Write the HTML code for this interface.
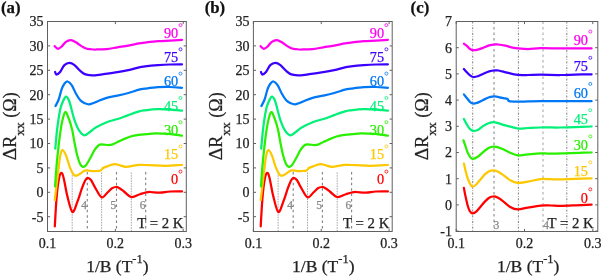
<!DOCTYPE html>
<html><head><meta charset="utf-8"><title>Figure</title>
<style>
html,body{margin:0;padding:0;background:#fff;}
body{width:602px;height:277px;overflow:hidden;}
svg{display:block;font-family:"Liberation Serif", serif;will-change:transform;}
text{stroke:currentColor;stroke-width:0.25px;}
</style></head>
<body>
<svg width="602" height="277" viewBox="0 0 602 277">
<rect x="0" y="0" width="602" height="277" fill="#fff"/>
<line x1="72.20" y1="172.50" x2="72.20" y2="231" stroke="#a8a8a8" stroke-width="1" stroke-dasharray="1.6 1"/>
<line x1="101.60" y1="172.50" x2="101.60" y2="231" stroke="#a8a8a8" stroke-width="1" stroke-dasharray="1.6 1"/>
<line x1="131.30" y1="172.50" x2="131.30" y2="231" stroke="#a8a8a8" stroke-width="1" stroke-dasharray="1.6 1"/>
<line x1="87.30" y1="172.00" x2="87.30" y2="231" stroke="#808080" stroke-width="1.1" stroke-dasharray="2.5 2.9"/>
<line x1="116.50" y1="172.00" x2="116.50" y2="231" stroke="#808080" stroke-width="1.1" stroke-dasharray="2.5 2.9"/>
<line x1="145.70" y1="172.00" x2="145.70" y2="231" stroke="#808080" stroke-width="1.1" stroke-dasharray="2.5 2.9"/>
<text x="84.10" y="208.80" font-size="11.50" text-anchor="middle" fill="#888" color="#888" font-weight="normal" >4</text>
<text x="113.30" y="208.80" font-size="11.50" text-anchor="middle" fill="#888" color="#888" font-weight="normal" >5</text>
<text x="142.50" y="208.80" font-size="11.50" text-anchor="middle" fill="#888" color="#888" font-weight="normal" >6</text>
<text x="137.20" y="227.70" font-size="14.80" text-anchor="start" fill="#222" color="#222" font-weight="normal" >T = 2 K</text>
<path d="M54.80,226.40 C55.08,221.80 55.85,206.53 56.50,198.80 C57.15,191.07 57.90,184.33 58.70,180.00 C59.50,175.67 60.47,173.10 61.30,172.80 C62.13,172.50 62.70,174.35 63.70,178.20 C64.70,182.05 65.85,190.27 67.30,195.90 C68.75,201.53 70.72,211.03 72.40,212.00 C74.08,212.97 75.83,205.58 77.40,201.70 C78.97,197.82 80.58,192.08 81.80,188.70 C83.02,185.32 83.75,183.22 84.70,181.40 C85.65,179.58 86.45,178.03 87.50,177.80 C88.55,177.57 89.75,178.42 91.00,180.00 C92.25,181.58 93.23,184.42 95.00,187.30 C96.77,190.18 99.52,196.43 101.60,197.30 C103.68,198.17 105.77,194.00 107.50,192.50 C109.23,191.00 110.62,189.22 112.00,188.30 C113.38,187.38 114.55,187.02 115.80,187.00 C117.05,186.98 118.13,187.45 119.50,188.20 C120.87,188.95 122.03,190.03 124.00,191.50 C125.97,192.97 128.63,196.55 131.30,197.00 C133.97,197.45 137.60,194.95 140.00,194.20 C142.40,193.45 144.00,192.87 145.70,192.50 C147.40,192.13 147.82,191.98 150.20,192.00 C152.58,192.02 156.70,192.68 160.00,192.60 C163.30,192.52 166.33,191.70 170.00,191.50 C173.67,191.30 180.00,191.42 182.00,191.40" fill="none" stroke="#ff0000" stroke-width="2.25" stroke-linejoin="round" stroke-linecap="round"/>
<path d="M54.80,200.20 C55.32,195.82 57.02,181.17 57.90,173.90 C58.78,166.63 59.37,160.57 60.10,156.60 C60.83,152.63 61.33,150.35 62.30,150.10 C63.27,149.85 64.58,152.10 65.90,155.10 C67.22,158.10 68.77,164.73 70.20,168.10 C71.63,171.47 73.05,174.25 74.50,175.30 C75.95,176.35 77.20,175.18 78.90,174.40 C80.60,173.62 83.10,171.23 84.70,170.60 C86.30,169.97 87.12,170.52 88.50,170.60 C89.88,170.68 91.58,171.03 93.00,171.10 C94.42,171.17 95.73,171.10 97.00,171.00 C98.27,170.90 99.53,171.03 100.60,170.50 C101.67,169.97 102.33,168.48 103.40,167.80 C104.47,167.12 105.18,167.02 107.00,166.40 C108.82,165.78 112.13,164.28 114.30,164.10 C116.47,163.92 118.02,164.85 120.00,165.30 C121.98,165.75 123.02,166.87 126.20,166.80 C129.38,166.73 135.13,165.17 139.10,164.90 C143.07,164.63 145.68,165.05 150.00,165.20 C154.32,165.35 159.67,165.83 165.00,165.80 C170.33,165.77 179.17,165.13 182.00,165.00" fill="none" stroke="#fcc800" stroke-width="2.25" stroke-linejoin="round" stroke-linecap="round"/>
<path d="M55.10,186.50 C55.33,183.20 55.90,173.62 56.50,166.70 C57.10,159.78 57.85,152.05 58.70,145.00 C59.55,137.95 60.52,129.87 61.60,124.40 C62.68,118.93 64.00,113.15 65.20,112.20 C66.40,111.25 67.63,115.73 68.80,118.70 C69.97,121.67 71.28,126.18 72.20,130.00 C73.12,133.82 73.47,137.38 74.30,141.60 C75.13,145.82 76.23,151.58 77.20,155.30 C78.17,159.02 79.13,161.98 80.10,163.90 C81.07,165.82 82.03,166.55 83.00,166.80 C83.97,167.05 84.70,166.83 85.90,165.40 C87.10,163.97 88.77,160.73 90.20,158.20 C91.63,155.67 93.05,152.40 94.50,150.20 C95.95,148.00 97.45,145.95 98.90,145.00 C100.35,144.05 101.68,144.50 103.20,144.50 C104.72,144.50 106.53,144.98 108.00,145.00 C109.47,145.02 110.42,145.10 112.00,144.60 C113.58,144.10 115.75,142.82 117.50,142.00 C119.25,141.18 120.32,140.62 122.50,139.70 C124.68,138.78 127.90,137.30 130.60,136.50 C133.30,135.70 136.00,135.30 138.70,134.90 C141.40,134.50 144.08,134.35 146.80,134.10 C149.52,133.85 152.30,133.48 155.00,133.40 C157.70,133.32 160.33,133.48 163.00,133.60 C165.67,133.72 167.83,133.77 171.00,134.10 C174.17,134.43 180.17,135.35 182.00,135.60" fill="none" stroke="#28f000" stroke-width="2.25" stroke-linejoin="round" stroke-linecap="round"/>
<path d="M55.30,148.60 C55.62,145.30 56.40,135.23 57.20,128.80 C58.00,122.37 59.22,114.38 60.10,110.00 C60.98,105.62 61.53,104.72 62.50,102.50 C63.47,100.28 64.82,97.03 65.90,96.70 C66.98,96.37 68.03,98.28 69.00,100.50 C69.97,102.72 70.78,106.73 71.70,110.00 C72.62,113.27 73.30,116.73 74.50,120.10 C75.70,123.47 77.28,127.67 78.90,130.20 C80.52,132.73 82.32,135.05 84.20,135.30 C86.08,135.55 88.27,132.98 90.20,131.70 C92.13,130.42 93.05,129.18 95.80,127.60 C98.55,126.02 103.08,123.63 106.70,122.20 C110.32,120.77 113.90,120.18 117.50,119.00 C121.10,117.82 124.70,116.37 128.30,115.10 C131.90,113.83 136.32,112.20 139.10,111.40 C141.88,110.60 141.85,110.67 145.00,110.30 C148.15,109.93 153.83,109.32 158.00,109.20 C162.17,109.08 166.00,109.35 170.00,109.60 C174.00,109.85 180.00,110.52 182.00,110.70" fill="none" stroke="#00f078" stroke-width="2.25" stroke-linejoin="round" stroke-linecap="round"/>
<path d="M55.50,106.00 C56.03,104.92 57.68,102.27 58.70,99.50 C59.72,96.73 60.65,92.03 61.60,89.40 C62.55,86.77 63.40,85.02 64.40,83.70 C65.40,82.38 66.38,81.27 67.60,81.50 C68.82,81.73 70.30,83.05 71.70,85.10 C73.10,87.15 74.57,91.27 76.00,93.80 C77.43,96.33 78.85,98.73 80.30,100.30 C81.75,101.87 83.20,102.53 84.70,103.20 C86.20,103.87 87.45,104.48 89.30,104.30 C91.15,104.12 92.90,103.18 95.80,102.10 C98.70,101.02 103.08,98.88 106.70,97.80 C110.32,96.72 113.90,96.40 117.50,95.60 C121.10,94.80 124.70,93.98 128.30,93.00 C131.90,92.02 136.32,90.42 139.10,89.70 C141.88,88.98 141.85,89.12 145.00,88.70 C148.15,88.28 153.83,87.48 158.00,87.20 C162.17,86.92 166.00,86.90 170.00,87.00 C174.00,87.10 180.00,87.67 182.00,87.80" fill="none" stroke="#0078f5" stroke-width="2.25" stroke-linejoin="round" stroke-linecap="round"/>
<path d="M55.10,72.00 C55.33,72.42 55.67,74.50 56.50,74.50 C57.33,74.50 58.78,73.57 60.10,72.00 C61.42,70.43 62.83,66.62 64.40,65.10 C65.97,63.58 67.82,62.90 69.50,62.90 C71.18,62.90 72.70,63.77 74.50,65.10 C76.30,66.43 78.60,69.40 80.30,70.90 C82.00,72.40 83.08,73.38 84.70,74.10 C86.32,74.82 88.28,74.98 90.00,75.20 C91.72,75.42 92.95,75.53 95.00,75.40 C97.05,75.27 98.55,74.93 102.30,74.40 C106.05,73.87 113.17,72.92 117.50,72.20 C121.83,71.48 124.70,70.92 128.30,70.10 C131.90,69.28 136.32,67.92 139.10,67.30 C141.88,66.68 141.85,66.75 145.00,66.40 C148.15,66.05 153.83,65.52 158.00,65.20 C162.17,64.88 166.00,64.65 170.00,64.50 C174.00,64.35 180.00,64.33 182.00,64.30" fill="none" stroke="#3c00ff" stroke-width="2.25" stroke-linejoin="round" stroke-linecap="round"/>
<path d="M54.60,46.20 C55.15,46.63 56.73,48.73 57.90,48.80 C59.07,48.87 60.27,47.77 61.60,46.60 C62.93,45.43 64.35,42.88 65.90,41.80 C67.45,40.72 69.22,40.02 70.90,40.10 C72.58,40.18 74.32,41.33 76.00,42.30 C77.68,43.27 79.32,44.87 81.00,45.90 C82.68,46.93 84.52,47.95 86.10,48.50 C87.68,49.05 88.85,49.03 90.50,49.20 C92.15,49.37 93.30,49.52 96.00,49.50 C98.70,49.48 103.12,49.47 106.70,49.10 C110.28,48.73 113.90,47.88 117.50,47.30 C121.10,46.72 124.70,46.25 128.30,45.60 C131.90,44.95 136.32,43.90 139.10,43.40 C141.88,42.90 141.85,42.97 145.00,42.60 C148.15,42.23 153.83,41.53 158.00,41.20 C162.17,40.87 166.00,40.82 170.00,40.60 C174.00,40.38 180.00,40.02 182.00,39.90" fill="none" stroke="#ff00f0" stroke-width="2.25" stroke-linejoin="round" stroke-linecap="round"/>
<text x="178.20" y="37.70" font-size="14.30" text-anchor="end" fill="#ff00f0" color="#ff00f0" font-weight="normal" >90</text>
<circle cx="180.50" cy="25.10" r="1.5" fill="none" stroke="#ff00f0" stroke-width="0.8"/>
<text x="178.20" y="61.90" font-size="14.30" text-anchor="end" fill="#3c00ff" color="#3c00ff" font-weight="normal" >75</text>
<circle cx="180.50" cy="49.30" r="1.5" fill="none" stroke="#3c00ff" stroke-width="0.8"/>
<text x="178.20" y="86.20" font-size="14.30" text-anchor="end" fill="#0078f5" color="#0078f5" font-weight="normal" >60</text>
<circle cx="180.50" cy="73.60" r="1.5" fill="none" stroke="#0078f5" stroke-width="0.8"/>
<text x="178.20" y="110.50" font-size="14.30" text-anchor="end" fill="#00f078" color="#00f078" font-weight="normal" >45</text>
<circle cx="180.50" cy="97.90" r="1.5" fill="none" stroke="#00f078" stroke-width="0.8"/>
<text x="178.20" y="134.80" font-size="14.30" text-anchor="end" fill="#28f000" color="#28f000" font-weight="normal" >30</text>
<circle cx="180.50" cy="122.20" r="1.5" fill="none" stroke="#28f000" stroke-width="0.8"/>
<text x="178.20" y="159.00" font-size="14.30" text-anchor="end" fill="#fcc800" color="#fcc800" font-weight="normal" >15</text>
<circle cx="180.50" cy="146.40" r="1.5" fill="none" stroke="#fcc800" stroke-width="0.8"/>
<text x="178.20" y="184.20" font-size="14.30" text-anchor="end" fill="#ff0000" color="#ff0000" font-weight="normal" >0</text>
<circle cx="180.50" cy="171.60" r="1.5" fill="none" stroke="#ff0000" stroke-width="0.8"/>
<rect x="47.50" y="21.50" width="138.80" height="210.00" fill="none" stroke="#606060" stroke-width="1"/>
<line x1="47.50" y1="216.70" x2="50.10" y2="216.70" stroke="#606060" stroke-width="1"/>
<line x1="186.30" y1="216.70" x2="183.70" y2="216.70" stroke="#606060" stroke-width="1"/>
<text x="43.50" y="221.50" font-size="14.00" text-anchor="end" fill="#222" color="#222" font-weight="normal" >-5</text>
<line x1="47.50" y1="192.30" x2="50.10" y2="192.30" stroke="#606060" stroke-width="1"/>
<line x1="186.30" y1="192.30" x2="183.70" y2="192.30" stroke="#606060" stroke-width="1"/>
<text x="43.50" y="197.10" font-size="14.00" text-anchor="end" fill="#222" color="#222" font-weight="normal" >0</text>
<line x1="47.50" y1="167.90" x2="50.10" y2="167.90" stroke="#606060" stroke-width="1"/>
<line x1="186.30" y1="167.90" x2="183.70" y2="167.90" stroke="#606060" stroke-width="1"/>
<text x="43.50" y="172.70" font-size="14.00" text-anchor="end" fill="#222" color="#222" font-weight="normal" >5</text>
<line x1="47.50" y1="143.50" x2="50.10" y2="143.50" stroke="#606060" stroke-width="1"/>
<line x1="186.30" y1="143.50" x2="183.70" y2="143.50" stroke="#606060" stroke-width="1"/>
<text x="43.50" y="148.30" font-size="14.00" text-anchor="end" fill="#222" color="#222" font-weight="normal" >10</text>
<line x1="47.50" y1="119.10" x2="50.10" y2="119.10" stroke="#606060" stroke-width="1"/>
<line x1="186.30" y1="119.10" x2="183.70" y2="119.10" stroke="#606060" stroke-width="1"/>
<text x="43.50" y="123.90" font-size="14.00" text-anchor="end" fill="#222" color="#222" font-weight="normal" >15</text>
<line x1="47.50" y1="94.70" x2="50.10" y2="94.70" stroke="#606060" stroke-width="1"/>
<line x1="186.30" y1="94.70" x2="183.70" y2="94.70" stroke="#606060" stroke-width="1"/>
<text x="43.50" y="99.50" font-size="14.00" text-anchor="end" fill="#222" color="#222" font-weight="normal" >20</text>
<line x1="47.50" y1="70.30" x2="50.10" y2="70.30" stroke="#606060" stroke-width="1"/>
<line x1="186.30" y1="70.30" x2="183.70" y2="70.30" stroke="#606060" stroke-width="1"/>
<text x="43.50" y="75.10" font-size="14.00" text-anchor="end" fill="#222" color="#222" font-weight="normal" >25</text>
<line x1="47.50" y1="45.90" x2="50.10" y2="45.90" stroke="#606060" stroke-width="1"/>
<line x1="186.30" y1="45.90" x2="183.70" y2="45.90" stroke="#606060" stroke-width="1"/>
<text x="43.50" y="50.70" font-size="14.00" text-anchor="end" fill="#222" color="#222" font-weight="normal" >30</text>
<line x1="47.50" y1="21.50" x2="50.10" y2="21.50" stroke="#606060" stroke-width="1"/>
<line x1="186.30" y1="21.50" x2="183.70" y2="21.50" stroke="#606060" stroke-width="1"/>
<text x="43.50" y="26.30" font-size="14.00" text-anchor="end" fill="#222" color="#222" font-weight="normal" >35</text>
<line x1="47.50" y1="231.50" x2="47.50" y2="228.90" stroke="#606060" stroke-width="1"/>
<line x1="47.50" y1="21.50" x2="47.50" y2="24.10" stroke="#606060" stroke-width="1"/>
<text x="47.50" y="248.20" font-size="14.00" text-anchor="middle" fill="#222" color="#222" font-weight="normal" >0.1</text>
<line x1="115.35" y1="231.50" x2="115.35" y2="228.90" stroke="#606060" stroke-width="1"/>
<line x1="115.35" y1="21.50" x2="115.35" y2="24.10" stroke="#606060" stroke-width="1"/>
<text x="115.35" y="248.20" font-size="14.00" text-anchor="middle" fill="#222" color="#222" font-weight="normal" >0.2</text>
<line x1="183.20" y1="231.50" x2="183.20" y2="228.90" stroke="#606060" stroke-width="1"/>
<line x1="183.20" y1="21.50" x2="183.20" y2="24.10" stroke="#606060" stroke-width="1"/>
<text x="183.20" y="248.20" font-size="14.00" text-anchor="middle" fill="#222" color="#222" font-weight="normal" >0.3</text>
<text x="117.40" y="272.4" font-size="17.5" text-anchor="middle" fill="#222" color="#222">1/B (T<tspan font-size="12.5" dy="-9">-1</tspan><tspan dy="9">)</tspan></text>
<text transform="translate(16.30,159.60) rotate(-90)" font-size="18" fill="#222" color="#222" x="-0.7" y="0"><tspan font-size="19.5">&#916;</tspan>R<tspan font-size="13.5" dy="8">xx</tspan><tspan dy="-8"> (&#937;)</tspan></text>
<text x="1.00" y="13.30" font-size="16.80" text-anchor="start" fill="#111" color="#111" font-weight="bold" >(a)</text>
<line x1="278.10" y1="172.50" x2="278.10" y2="231" stroke="#a8a8a8" stroke-width="1" stroke-dasharray="1.6 1"/>
<line x1="307.50" y1="172.50" x2="307.50" y2="231" stroke="#a8a8a8" stroke-width="1" stroke-dasharray="1.6 1"/>
<line x1="337.20" y1="172.50" x2="337.20" y2="231" stroke="#a8a8a8" stroke-width="1" stroke-dasharray="1.6 1"/>
<line x1="293.20" y1="172.00" x2="293.20" y2="231" stroke="#808080" stroke-width="1.1" stroke-dasharray="2.5 2.9"/>
<line x1="322.40" y1="172.00" x2="322.40" y2="231" stroke="#808080" stroke-width="1.1" stroke-dasharray="2.5 2.9"/>
<line x1="351.60" y1="172.00" x2="351.60" y2="231" stroke="#808080" stroke-width="1.1" stroke-dasharray="2.5 2.9"/>
<text x="290.00" y="208.80" font-size="11.50" text-anchor="middle" fill="#888" color="#888" font-weight="normal" >4</text>
<text x="319.20" y="208.80" font-size="11.50" text-anchor="middle" fill="#888" color="#888" font-weight="normal" >5</text>
<text x="348.40" y="208.80" font-size="11.50" text-anchor="middle" fill="#888" color="#888" font-weight="normal" >6</text>
<text x="343.10" y="227.70" font-size="14.80" text-anchor="start" fill="#222" color="#222" font-weight="normal" >T = 2 K</text>
<path d="M260.70,226.40 C260.98,221.80 261.75,206.53 262.40,198.80 C263.05,191.07 263.80,184.33 264.60,180.00 C265.40,175.67 266.37,173.10 267.20,172.80 C268.03,172.50 268.60,174.35 269.60,178.20 C270.60,182.05 271.75,190.27 273.20,195.90 C274.65,201.53 276.62,211.03 278.30,212.00 C279.98,212.97 281.73,205.58 283.30,201.70 C284.87,197.82 286.48,192.08 287.70,188.70 C288.92,185.32 289.65,183.22 290.60,181.40 C291.55,179.58 292.35,178.03 293.40,177.80 C294.45,177.57 295.65,178.42 296.90,180.00 C298.15,181.58 299.13,184.42 300.90,187.30 C302.67,190.18 305.42,196.43 307.50,197.30 C309.58,198.17 311.67,194.00 313.40,192.50 C315.13,191.00 316.52,189.22 317.90,188.30 C319.28,187.38 320.45,187.02 321.70,187.00 C322.95,186.98 324.03,187.45 325.40,188.20 C326.77,188.95 327.93,190.03 329.90,191.50 C331.87,192.97 334.53,196.55 337.20,197.00 C339.87,197.45 343.50,194.95 345.90,194.20 C348.30,193.45 349.90,192.87 351.60,192.50 C353.30,192.13 353.72,191.98 356.10,192.00 C358.48,192.02 362.60,192.68 365.90,192.60 C369.20,192.52 372.23,191.70 375.90,191.50 C379.57,191.30 385.90,191.42 387.90,191.40" fill="none" stroke="#ff0000" stroke-width="2.25" stroke-linejoin="round" stroke-linecap="round"/>
<path d="M260.70,200.20 C261.22,195.82 262.92,181.17 263.80,173.90 C264.68,166.63 265.27,160.57 266.00,156.60 C266.73,152.63 267.23,150.35 268.20,150.10 C269.17,149.85 270.48,152.10 271.80,155.10 C273.12,158.10 274.67,164.73 276.10,168.10 C277.53,171.47 278.95,174.25 280.40,175.30 C281.85,176.35 283.10,175.18 284.80,174.40 C286.50,173.62 289.00,171.23 290.60,170.60 C292.20,169.97 293.02,170.52 294.40,170.60 C295.78,170.68 297.48,171.03 298.90,171.10 C300.32,171.17 301.63,171.10 302.90,171.00 C304.17,170.90 305.43,171.03 306.50,170.50 C307.57,169.97 308.23,168.48 309.30,167.80 C310.37,167.12 311.08,167.02 312.90,166.40 C314.72,165.78 318.03,164.28 320.20,164.10 C322.37,163.92 323.92,164.85 325.90,165.30 C327.88,165.75 328.92,166.87 332.10,166.80 C335.28,166.73 341.03,165.17 345.00,164.90 C348.97,164.63 351.58,165.05 355.90,165.20 C360.22,165.35 365.57,165.83 370.90,165.80 C376.23,165.77 385.07,165.13 387.90,165.00" fill="none" stroke="#fcc800" stroke-width="2.25" stroke-linejoin="round" stroke-linecap="round"/>
<path d="M261.00,186.50 C261.23,183.20 261.80,173.62 262.40,166.70 C263.00,159.78 263.75,152.05 264.60,145.00 C265.45,137.95 266.42,129.87 267.50,124.40 C268.58,118.93 269.90,113.15 271.10,112.20 C272.30,111.25 273.53,115.73 274.70,118.70 C275.87,121.67 277.18,126.18 278.10,130.00 C279.02,133.82 279.37,137.38 280.20,141.60 C281.03,145.82 282.13,151.58 283.10,155.30 C284.07,159.02 285.03,161.98 286.00,163.90 C286.97,165.82 287.93,166.55 288.90,166.80 C289.87,167.05 290.60,166.83 291.80,165.40 C293.00,163.97 294.67,160.73 296.10,158.20 C297.53,155.67 298.95,152.40 300.40,150.20 C301.85,148.00 303.35,145.95 304.80,145.00 C306.25,144.05 307.58,144.50 309.10,144.50 C310.62,144.50 312.43,144.98 313.90,145.00 C315.37,145.02 316.32,145.10 317.90,144.60 C319.48,144.10 321.65,142.82 323.40,142.00 C325.15,141.18 326.22,140.62 328.40,139.70 C330.58,138.78 333.80,137.30 336.50,136.50 C339.20,135.70 341.90,135.30 344.60,134.90 C347.30,134.50 349.98,134.35 352.70,134.10 C355.42,133.85 358.20,133.48 360.90,133.40 C363.60,133.32 366.23,133.48 368.90,133.60 C371.57,133.72 373.73,133.77 376.90,134.10 C380.07,134.43 386.07,135.35 387.90,135.60" fill="none" stroke="#28f000" stroke-width="2.25" stroke-linejoin="round" stroke-linecap="round"/>
<path d="M261.20,148.60 C261.52,145.30 262.30,135.23 263.10,128.80 C263.90,122.37 265.12,114.38 266.00,110.00 C266.88,105.62 267.43,104.72 268.40,102.50 C269.37,100.28 270.72,97.03 271.80,96.70 C272.88,96.37 273.93,98.28 274.90,100.50 C275.87,102.72 276.68,106.73 277.60,110.00 C278.52,113.27 279.20,116.73 280.40,120.10 C281.60,123.47 283.18,127.67 284.80,130.20 C286.42,132.73 288.22,135.05 290.10,135.30 C291.98,135.55 294.17,132.98 296.10,131.70 C298.03,130.42 298.95,129.18 301.70,127.60 C304.45,126.02 308.98,123.63 312.60,122.20 C316.22,120.77 319.80,120.18 323.40,119.00 C327.00,117.82 330.60,116.37 334.20,115.10 C337.80,113.83 342.22,112.20 345.00,111.40 C347.78,110.60 347.75,110.67 350.90,110.30 C354.05,109.93 359.73,109.32 363.90,109.20 C368.07,109.08 371.90,109.35 375.90,109.60 C379.90,109.85 385.90,110.52 387.90,110.70" fill="none" stroke="#00f078" stroke-width="2.25" stroke-linejoin="round" stroke-linecap="round"/>
<path d="M261.40,106.00 C261.93,104.92 263.58,102.27 264.60,99.50 C265.62,96.73 266.55,92.03 267.50,89.40 C268.45,86.77 269.30,85.02 270.30,83.70 C271.30,82.38 272.28,81.27 273.50,81.50 C274.72,81.73 276.20,83.05 277.60,85.10 C279.00,87.15 280.47,91.27 281.90,93.80 C283.33,96.33 284.75,98.73 286.20,100.30 C287.65,101.87 289.10,102.53 290.60,103.20 C292.10,103.87 293.35,104.48 295.20,104.30 C297.05,104.12 298.80,103.18 301.70,102.10 C304.60,101.02 308.98,98.88 312.60,97.80 C316.22,96.72 319.80,96.40 323.40,95.60 C327.00,94.80 330.60,93.98 334.20,93.00 C337.80,92.02 342.22,90.42 345.00,89.70 C347.78,88.98 347.75,89.12 350.90,88.70 C354.05,88.28 359.73,87.48 363.90,87.20 C368.07,86.92 371.90,86.90 375.90,87.00 C379.90,87.10 385.90,87.67 387.90,87.80" fill="none" stroke="#0078f5" stroke-width="2.25" stroke-linejoin="round" stroke-linecap="round"/>
<path d="M261.00,72.00 C261.23,72.42 261.57,74.50 262.40,74.50 C263.23,74.50 264.68,73.57 266.00,72.00 C267.32,70.43 268.73,66.62 270.30,65.10 C271.87,63.58 273.72,62.90 275.40,62.90 C277.08,62.90 278.60,63.77 280.40,65.10 C282.20,66.43 284.50,69.40 286.20,70.90 C287.90,72.40 288.98,73.38 290.60,74.10 C292.22,74.82 294.18,74.98 295.90,75.20 C297.62,75.42 298.85,75.53 300.90,75.40 C302.95,75.27 304.45,74.93 308.20,74.40 C311.95,73.87 319.07,72.92 323.40,72.20 C327.73,71.48 330.60,70.92 334.20,70.10 C337.80,69.28 342.22,67.92 345.00,67.30 C347.78,66.68 347.75,66.75 350.90,66.40 C354.05,66.05 359.73,65.52 363.90,65.20 C368.07,64.88 371.90,64.65 375.90,64.50 C379.90,64.35 385.90,64.33 387.90,64.30" fill="none" stroke="#3c00ff" stroke-width="2.25" stroke-linejoin="round" stroke-linecap="round"/>
<path d="M260.50,46.20 C261.05,46.63 262.63,48.73 263.80,48.80 C264.97,48.87 266.17,47.77 267.50,46.60 C268.83,45.43 270.25,42.88 271.80,41.80 C273.35,40.72 275.12,40.02 276.80,40.10 C278.48,40.18 280.22,41.33 281.90,42.30 C283.58,43.27 285.22,44.87 286.90,45.90 C288.58,46.93 290.42,47.95 292.00,48.50 C293.58,49.05 294.75,49.03 296.40,49.20 C298.05,49.37 299.20,49.52 301.90,49.50 C304.60,49.48 309.02,49.47 312.60,49.10 C316.18,48.73 319.80,47.88 323.40,47.30 C327.00,46.72 330.60,46.25 334.20,45.60 C337.80,44.95 342.22,43.90 345.00,43.40 C347.78,42.90 347.75,42.97 350.90,42.60 C354.05,42.23 359.73,41.53 363.90,41.20 C368.07,40.87 371.90,40.82 375.90,40.60 C379.90,40.38 385.90,40.02 387.90,39.90" fill="none" stroke="#ff00f0" stroke-width="2.25" stroke-linejoin="round" stroke-linecap="round"/>
<text x="384.10" y="37.70" font-size="14.30" text-anchor="end" fill="#ff00f0" color="#ff00f0" font-weight="normal" >90</text>
<circle cx="386.40" cy="25.10" r="1.5" fill="none" stroke="#ff00f0" stroke-width="0.8"/>
<text x="384.10" y="61.90" font-size="14.30" text-anchor="end" fill="#3c00ff" color="#3c00ff" font-weight="normal" >75</text>
<circle cx="386.40" cy="49.30" r="1.5" fill="none" stroke="#3c00ff" stroke-width="0.8"/>
<text x="384.10" y="86.20" font-size="14.30" text-anchor="end" fill="#0078f5" color="#0078f5" font-weight="normal" >60</text>
<circle cx="386.40" cy="73.60" r="1.5" fill="none" stroke="#0078f5" stroke-width="0.8"/>
<text x="384.10" y="110.50" font-size="14.30" text-anchor="end" fill="#00f078" color="#00f078" font-weight="normal" >45</text>
<circle cx="386.40" cy="97.90" r="1.5" fill="none" stroke="#00f078" stroke-width="0.8"/>
<text x="384.10" y="134.80" font-size="14.30" text-anchor="end" fill="#28f000" color="#28f000" font-weight="normal" >30</text>
<circle cx="386.40" cy="122.20" r="1.5" fill="none" stroke="#28f000" stroke-width="0.8"/>
<text x="384.10" y="159.00" font-size="14.30" text-anchor="end" fill="#fcc800" color="#fcc800" font-weight="normal" >15</text>
<circle cx="386.40" cy="146.40" r="1.5" fill="none" stroke="#fcc800" stroke-width="0.8"/>
<text x="384.10" y="184.20" font-size="14.30" text-anchor="end" fill="#ff0000" color="#ff0000" font-weight="normal" >0</text>
<circle cx="386.40" cy="171.60" r="1.5" fill="none" stroke="#ff0000" stroke-width="0.8"/>
<rect x="253.40" y="21.50" width="138.80" height="210.00" fill="none" stroke="#606060" stroke-width="1"/>
<line x1="253.40" y1="216.70" x2="256.00" y2="216.70" stroke="#606060" stroke-width="1"/>
<line x1="392.20" y1="216.70" x2="389.60" y2="216.70" stroke="#606060" stroke-width="1"/>
<text x="249.40" y="221.50" font-size="14.00" text-anchor="end" fill="#222" color="#222" font-weight="normal" >-5</text>
<line x1="253.40" y1="192.30" x2="256.00" y2="192.30" stroke="#606060" stroke-width="1"/>
<line x1="392.20" y1="192.30" x2="389.60" y2="192.30" stroke="#606060" stroke-width="1"/>
<text x="249.40" y="197.10" font-size="14.00" text-anchor="end" fill="#222" color="#222" font-weight="normal" >0</text>
<line x1="253.40" y1="167.90" x2="256.00" y2="167.90" stroke="#606060" stroke-width="1"/>
<line x1="392.20" y1="167.90" x2="389.60" y2="167.90" stroke="#606060" stroke-width="1"/>
<text x="249.40" y="172.70" font-size="14.00" text-anchor="end" fill="#222" color="#222" font-weight="normal" >5</text>
<line x1="253.40" y1="143.50" x2="256.00" y2="143.50" stroke="#606060" stroke-width="1"/>
<line x1="392.20" y1="143.50" x2="389.60" y2="143.50" stroke="#606060" stroke-width="1"/>
<text x="249.40" y="148.30" font-size="14.00" text-anchor="end" fill="#222" color="#222" font-weight="normal" >10</text>
<line x1="253.40" y1="119.10" x2="256.00" y2="119.10" stroke="#606060" stroke-width="1"/>
<line x1="392.20" y1="119.10" x2="389.60" y2="119.10" stroke="#606060" stroke-width="1"/>
<text x="249.40" y="123.90" font-size="14.00" text-anchor="end" fill="#222" color="#222" font-weight="normal" >15</text>
<line x1="253.40" y1="94.70" x2="256.00" y2="94.70" stroke="#606060" stroke-width="1"/>
<line x1="392.20" y1="94.70" x2="389.60" y2="94.70" stroke="#606060" stroke-width="1"/>
<text x="249.40" y="99.50" font-size="14.00" text-anchor="end" fill="#222" color="#222" font-weight="normal" >20</text>
<line x1="253.40" y1="70.30" x2="256.00" y2="70.30" stroke="#606060" stroke-width="1"/>
<line x1="392.20" y1="70.30" x2="389.60" y2="70.30" stroke="#606060" stroke-width="1"/>
<text x="249.40" y="75.10" font-size="14.00" text-anchor="end" fill="#222" color="#222" font-weight="normal" >25</text>
<line x1="253.40" y1="45.90" x2="256.00" y2="45.90" stroke="#606060" stroke-width="1"/>
<line x1="392.20" y1="45.90" x2="389.60" y2="45.90" stroke="#606060" stroke-width="1"/>
<text x="249.40" y="50.70" font-size="14.00" text-anchor="end" fill="#222" color="#222" font-weight="normal" >30</text>
<line x1="253.40" y1="21.50" x2="256.00" y2="21.50" stroke="#606060" stroke-width="1"/>
<line x1="392.20" y1="21.50" x2="389.60" y2="21.50" stroke="#606060" stroke-width="1"/>
<text x="249.40" y="26.30" font-size="14.00" text-anchor="end" fill="#222" color="#222" font-weight="normal" >35</text>
<line x1="253.40" y1="231.50" x2="253.40" y2="228.90" stroke="#606060" stroke-width="1"/>
<line x1="253.40" y1="21.50" x2="253.40" y2="24.10" stroke="#606060" stroke-width="1"/>
<text x="253.40" y="248.20" font-size="14.00" text-anchor="middle" fill="#222" color="#222" font-weight="normal" >0.1</text>
<line x1="321.25" y1="231.50" x2="321.25" y2="228.90" stroke="#606060" stroke-width="1"/>
<line x1="321.25" y1="21.50" x2="321.25" y2="24.10" stroke="#606060" stroke-width="1"/>
<text x="321.25" y="248.20" font-size="14.00" text-anchor="middle" fill="#222" color="#222" font-weight="normal" >0.2</text>
<line x1="389.10" y1="231.50" x2="389.10" y2="228.90" stroke="#606060" stroke-width="1"/>
<line x1="389.10" y1="21.50" x2="389.10" y2="24.10" stroke="#606060" stroke-width="1"/>
<text x="389.10" y="248.20" font-size="14.00" text-anchor="middle" fill="#222" color="#222" font-weight="normal" >0.3</text>
<text x="323.30" y="272.4" font-size="17.5" text-anchor="middle" fill="#222" color="#222">1/B (T<tspan font-size="12.5" dy="-9">-1</tspan><tspan dy="9">)</tspan></text>
<text transform="translate(222.20,159.60) rotate(-90)" font-size="18" fill="#222" color="#222" x="-0.7" y="0"><tspan font-size="19.5">&#916;</tspan>R<tspan font-size="13.5" dy="8">xx</tspan><tspan dy="-8"> (&#937;)</tspan></text>
<text x="204.70" y="13.30" font-size="16.80" text-anchor="start" fill="#111" color="#111" font-weight="bold" >(b)</text>
<line x1="472.70" y1="21.50" x2="472.70" y2="231" stroke="#707070" stroke-width="0.9" stroke-dasharray="2 1.5 0.7 1.5"/>
<line x1="518.40" y1="21.50" x2="518.40" y2="231" stroke="#707070" stroke-width="0.9" stroke-dasharray="2 1.5 0.7 1.5"/>
<line x1="566.80" y1="21.50" x2="566.80" y2="231" stroke="#707070" stroke-width="0.9" stroke-dasharray="2 1.5 0.7 1.5"/>
<line x1="494.00" y1="21.50" x2="494.00" y2="231" stroke="#888" stroke-width="1.1" stroke-dasharray="2.5 3.0"/>
<line x1="543.00" y1="21.50" x2="543.00" y2="231" stroke="#aaa" stroke-width="1.1" stroke-dasharray="2.5 3.0"/>
<text x="496.30" y="228.60" font-size="11.50" text-anchor="middle" fill="#888" color="#888" font-weight="normal" >3</text>
<text x="546.00" y="228.80" font-size="11.50" text-anchor="middle" fill="#888" color="#888" font-weight="normal" >4</text>
<text x="547.50" y="228.20" font-size="14.80" text-anchor="start" fill="#222" color="#222" font-weight="normal" >T = 2 K</text>
<path d="M463.90,187.90 C464.15,189.22 464.78,192.92 465.40,195.80 C466.02,198.68 466.88,202.67 467.60,205.20 C468.32,207.73 468.87,209.63 469.70,211.00 C470.53,212.37 471.52,213.28 472.60,213.40 C473.68,213.52 474.88,212.82 476.20,211.70 C477.52,210.58 479.05,208.38 480.50,206.70 C481.95,205.02 483.45,203.10 484.90,201.60 C486.35,200.10 487.77,198.55 489.20,197.70 C490.63,196.85 492.10,196.52 493.50,196.50 C494.90,196.48 496.08,196.88 497.60,197.60 C499.12,198.32 500.50,199.25 502.60,200.80 C504.70,202.35 507.67,205.47 510.20,206.90 C512.73,208.33 514.85,209.28 517.80,209.40 C520.75,209.52 524.12,208.23 527.90,207.60 C531.68,206.97 536.70,205.95 540.50,205.60 C544.30,205.25 547.45,205.45 550.70,205.50 C553.95,205.55 555.95,205.92 560.00,205.90 C564.05,205.88 569.73,205.62 575.00,205.40 C580.27,205.18 588.83,204.73 591.60,204.60" fill="none" stroke="#ff0000" stroke-width="2.25" stroke-linejoin="round" stroke-linecap="round"/>
<path d="M463.90,163.60 C464.15,164.68 464.78,167.68 465.40,170.10 C466.02,172.52 466.77,175.70 467.60,178.10 C468.43,180.50 469.57,183.07 470.40,184.50 C471.23,185.93 471.63,186.70 472.60,186.70 C473.57,186.70 474.88,185.70 476.20,184.50 C477.52,183.30 479.05,181.18 480.50,179.50 C481.95,177.82 483.45,175.77 484.90,174.40 C486.35,173.03 487.77,171.97 489.20,171.30 C490.63,170.63 492.10,170.35 493.50,170.40 C494.90,170.45 496.08,170.90 497.60,171.60 C499.12,172.30 500.50,173.15 502.60,174.60 C504.70,176.05 507.67,178.92 510.20,180.30 C512.73,181.68 514.85,182.68 517.80,182.90 C520.75,183.12 524.12,182.23 527.90,181.60 C531.68,180.97 536.82,179.50 540.50,179.10 C544.18,178.70 546.75,179.15 550.00,179.20 C553.25,179.25 555.83,179.47 560.00,179.40 C564.17,179.33 569.73,178.98 575.00,178.80 C580.27,178.62 588.83,178.38 591.60,178.30" fill="none" stroke="#fcc800" stroke-width="2.25" stroke-linejoin="round" stroke-linecap="round"/>
<path d="M463.50,140.40 C463.82,141.32 464.72,143.90 465.40,145.90 C466.08,147.90 466.77,150.48 467.60,152.40 C468.43,154.32 469.50,156.32 470.40,157.40 C471.30,158.48 471.78,159.02 473.00,158.90 C474.22,158.78 476.20,157.67 477.70,156.70 C479.20,155.73 480.57,154.30 482.00,153.10 C483.43,151.90 484.85,150.52 486.30,149.50 C487.75,148.48 489.37,147.48 490.70,147.00 C492.03,146.52 493.15,146.58 494.30,146.60 C495.45,146.62 496.32,146.73 497.60,147.10 C498.88,147.47 499.90,147.87 502.00,148.80 C504.10,149.73 507.57,151.62 510.20,152.70 C512.83,153.78 514.85,155.03 517.80,155.30 C520.75,155.57 524.12,154.63 527.90,154.30 C531.68,153.97 536.82,153.42 540.50,153.30 C544.18,153.18 545.92,153.60 550.00,153.60 C554.08,153.60 560.00,153.43 565.00,153.30 C570.00,153.17 575.57,152.93 580.00,152.80 C584.43,152.67 589.67,152.55 591.60,152.50" fill="none" stroke="#28f000" stroke-width="2.25" stroke-linejoin="round" stroke-linecap="round"/>
<path d="M463.90,119.00 C464.38,119.90 465.83,122.77 466.80,124.40 C467.77,126.03 468.67,127.72 469.70,128.80 C470.73,129.88 471.67,130.72 473.00,130.90 C474.33,131.08 475.97,130.73 477.70,129.90 C479.43,129.07 481.48,127.05 483.40,125.90 C485.32,124.75 487.27,123.60 489.20,123.00 C491.13,122.40 492.33,121.90 495.00,122.30 C497.67,122.70 501.40,124.37 505.20,125.40 C509.00,126.43 514.02,128.07 517.80,128.50 C521.58,128.93 524.12,128.17 527.90,128.00 C531.68,127.83 535.15,127.58 540.50,127.50 C545.85,127.42 554.25,127.55 560.00,127.50 C565.75,127.45 569.73,127.37 575.00,127.20 C580.27,127.03 588.83,126.62 591.60,126.50" fill="none" stroke="#00f078" stroke-width="2.25" stroke-linejoin="round" stroke-linecap="round"/>
<path d="M463.90,94.40 C464.38,95.00 465.83,96.80 466.80,98.00 C467.77,99.20 468.73,100.68 469.70,101.60 C470.67,102.52 471.27,103.33 472.60,103.50 C473.93,103.67 476.02,103.15 477.70,102.60 C479.38,102.05 480.78,101.08 482.70,100.20 C484.62,99.32 487.23,97.95 489.20,97.30 C491.17,96.65 492.33,96.20 494.50,96.30 C496.67,96.40 500.02,97.47 502.20,97.90 C504.38,98.33 506.45,98.37 507.60,98.90 C508.75,99.43 507.40,100.65 509.10,101.10 C510.80,101.55 514.67,101.55 517.80,101.60 C520.93,101.65 524.12,101.47 527.90,101.40 C531.68,101.33 535.15,101.23 540.50,101.20 C545.85,101.17 554.25,101.20 560.00,101.20 C565.75,101.20 569.73,101.20 575.00,101.20 C580.27,101.20 588.83,101.20 591.60,101.20" fill="none" stroke="#0078f5" stroke-width="2.25" stroke-linejoin="round" stroke-linecap="round"/>
<path d="M463.90,69.00 C464.38,69.55 465.83,71.27 466.80,72.30 C467.77,73.33 468.62,74.42 469.70,75.20 C470.78,75.98 471.97,76.82 473.30,77.00 C474.63,77.18 476.02,76.85 477.70,76.30 C479.38,75.75 481.48,74.53 483.40,73.70 C485.32,72.87 487.27,71.85 489.20,71.30 C491.13,70.75 493.43,70.53 495.00,70.40 C496.57,70.27 496.80,70.18 498.60,70.50 C500.40,70.82 503.40,71.70 505.80,72.30 C508.20,72.90 510.88,73.68 513.00,74.10 C515.12,74.52 516.02,74.65 518.50,74.80 C520.98,74.95 524.23,75.02 527.90,75.00 C531.57,74.98 535.15,74.70 540.50,74.70 C545.85,74.70 554.25,75.02 560.00,75.00 C565.75,74.98 569.73,74.72 575.00,74.60 C580.27,74.48 588.83,74.35 591.60,74.30" fill="none" stroke="#3c00ff" stroke-width="2.25" stroke-linejoin="round" stroke-linecap="round"/>
<path d="M463.90,43.70 C464.38,44.05 465.83,44.97 466.80,45.80 C467.77,46.63 468.62,47.97 469.70,48.70 C470.78,49.43 471.97,50.03 473.30,50.20 C474.63,50.37 476.02,50.12 477.70,49.70 C479.38,49.28 481.48,48.42 483.40,47.70 C485.32,46.98 487.27,45.95 489.20,45.40 C491.13,44.85 493.53,44.55 495.00,44.40 C496.47,44.25 496.30,44.28 498.00,44.50 C499.70,44.72 502.32,45.08 505.20,45.70 C508.08,46.32 511.52,47.65 515.30,48.20 C519.08,48.75 523.70,49.00 527.90,49.00 C532.10,49.00 535.15,48.30 540.50,48.20 C545.85,48.10 554.25,48.37 560.00,48.40 C565.75,48.43 569.73,48.42 575.00,48.40 C580.27,48.38 588.83,48.32 591.60,48.30" fill="none" stroke="#ff00f0" stroke-width="2.25" stroke-linejoin="round" stroke-linecap="round"/>
<text x="588.00" y="45.20" font-size="14.30" text-anchor="end" fill="#ff00f0" color="#ff00f0" font-weight="normal" >90</text>
<circle cx="590.30" cy="31.60" r="1.5" fill="none" stroke="#ff00f0" stroke-width="0.8"/>
<text x="588.00" y="71.40" font-size="14.30" text-anchor="end" fill="#3c00ff" color="#3c00ff" font-weight="normal" >75</text>
<circle cx="590.30" cy="57.80" r="1.5" fill="none" stroke="#3c00ff" stroke-width="0.8"/>
<text x="588.00" y="97.50" font-size="14.30" text-anchor="end" fill="#0078f5" color="#0078f5" font-weight="normal" >60</text>
<circle cx="590.30" cy="83.90" r="1.5" fill="none" stroke="#0078f5" stroke-width="0.8"/>
<text x="588.00" y="123.80" font-size="14.30" text-anchor="end" fill="#00f078" color="#00f078" font-weight="normal" >45</text>
<circle cx="590.30" cy="110.20" r="1.5" fill="none" stroke="#00f078" stroke-width="0.8"/>
<text x="588.00" y="150.00" font-size="14.30" text-anchor="end" fill="#28f000" color="#28f000" font-weight="normal" >30</text>
<circle cx="590.30" cy="136.40" r="1.5" fill="none" stroke="#28f000" stroke-width="0.8"/>
<text x="588.00" y="176.00" font-size="14.30" text-anchor="end" fill="#fcc800" color="#fcc800" font-weight="normal" >15</text>
<circle cx="590.30" cy="162.40" r="1.5" fill="none" stroke="#fcc800" stroke-width="0.8"/>
<text x="588.00" y="203.00" font-size="14.30" text-anchor="end" fill="#ff0000" color="#ff0000" font-weight="normal" >0</text>
<circle cx="590.30" cy="189.40" r="1.5" fill="none" stroke="#ff0000" stroke-width="0.8"/>
<rect x="456.20" y="21.50" width="141.60" height="210.00" fill="none" stroke="#606060" stroke-width="1"/>
<line x1="456.20" y1="231.10" x2="458.80" y2="231.10" stroke="#606060" stroke-width="1"/>
<line x1="597.80" y1="231.10" x2="595.20" y2="231.10" stroke="#606060" stroke-width="1"/>
<text x="452.00" y="235.90" font-size="14.00" text-anchor="end" fill="#222" color="#222" font-weight="normal" >-1</text>
<line x1="456.20" y1="204.90" x2="458.80" y2="204.90" stroke="#606060" stroke-width="1"/>
<line x1="597.80" y1="204.90" x2="595.20" y2="204.90" stroke="#606060" stroke-width="1"/>
<text x="452.00" y="209.70" font-size="14.00" text-anchor="end" fill="#222" color="#222" font-weight="normal" >0</text>
<line x1="456.20" y1="178.70" x2="458.80" y2="178.70" stroke="#606060" stroke-width="1"/>
<line x1="597.80" y1="178.70" x2="595.20" y2="178.70" stroke="#606060" stroke-width="1"/>
<text x="452.00" y="183.50" font-size="14.00" text-anchor="end" fill="#222" color="#222" font-weight="normal" >1</text>
<line x1="456.20" y1="152.50" x2="458.80" y2="152.50" stroke="#606060" stroke-width="1"/>
<line x1="597.80" y1="152.50" x2="595.20" y2="152.50" stroke="#606060" stroke-width="1"/>
<text x="452.00" y="157.30" font-size="14.00" text-anchor="end" fill="#222" color="#222" font-weight="normal" >2</text>
<line x1="456.20" y1="126.30" x2="458.80" y2="126.30" stroke="#606060" stroke-width="1"/>
<line x1="597.80" y1="126.30" x2="595.20" y2="126.30" stroke="#606060" stroke-width="1"/>
<text x="452.00" y="131.10" font-size="14.00" text-anchor="end" fill="#222" color="#222" font-weight="normal" >3</text>
<line x1="456.20" y1="100.10" x2="458.80" y2="100.10" stroke="#606060" stroke-width="1"/>
<line x1="597.80" y1="100.10" x2="595.20" y2="100.10" stroke="#606060" stroke-width="1"/>
<text x="452.00" y="104.90" font-size="14.00" text-anchor="end" fill="#222" color="#222" font-weight="normal" >4</text>
<line x1="456.20" y1="73.90" x2="458.80" y2="73.90" stroke="#606060" stroke-width="1"/>
<line x1="597.80" y1="73.90" x2="595.20" y2="73.90" stroke="#606060" stroke-width="1"/>
<text x="452.00" y="78.70" font-size="14.00" text-anchor="end" fill="#222" color="#222" font-weight="normal" >5</text>
<line x1="456.20" y1="47.70" x2="458.80" y2="47.70" stroke="#606060" stroke-width="1"/>
<line x1="597.80" y1="47.70" x2="595.20" y2="47.70" stroke="#606060" stroke-width="1"/>
<text x="452.00" y="52.50" font-size="14.00" text-anchor="end" fill="#222" color="#222" font-weight="normal" >6</text>
<line x1="456.20" y1="21.50" x2="458.80" y2="21.50" stroke="#606060" stroke-width="1"/>
<line x1="597.80" y1="21.50" x2="595.20" y2="21.50" stroke="#606060" stroke-width="1"/>
<text x="452.00" y="26.30" font-size="14.00" text-anchor="end" fill="#222" color="#222" font-weight="normal" >7</text>
<line x1="456.20" y1="231.50" x2="456.20" y2="228.90" stroke="#606060" stroke-width="1"/>
<line x1="456.20" y1="21.50" x2="456.20" y2="24.10" stroke="#606060" stroke-width="1"/>
<text x="456.20" y="248.20" font-size="14.00" text-anchor="middle" fill="#222" color="#222" font-weight="normal" >0.1</text>
<line x1="524.50" y1="231.50" x2="524.50" y2="228.90" stroke="#606060" stroke-width="1"/>
<line x1="524.50" y1="21.50" x2="524.50" y2="24.10" stroke="#606060" stroke-width="1"/>
<text x="524.50" y="248.20" font-size="14.00" text-anchor="middle" fill="#222" color="#222" font-weight="normal" >0.2</text>
<line x1="592.80" y1="231.50" x2="592.80" y2="228.90" stroke="#606060" stroke-width="1"/>
<line x1="592.80" y1="21.50" x2="592.80" y2="24.10" stroke="#606060" stroke-width="1"/>
<text x="592.80" y="248.20" font-size="14.00" text-anchor="middle" fill="#222" color="#222" font-weight="normal" >0.3</text>
<text x="528.2" y="272.4" font-size="17.5" text-anchor="middle" fill="#222" color="#222">1/B (T<tspan font-size="12.5" dy="-9">-1</tspan><tspan dy="9">)</tspan></text>
<text transform="translate(428.20,159.60) rotate(-90)" font-size="18" fill="#222" color="#222" x="-0.7" y="0"><tspan font-size="19.5">&#916;</tspan>R<tspan font-size="13.5" dy="8">xx</tspan><tspan dy="-8"> (&#937;)</tspan></text>
<text x="410.60" y="13.30" font-size="16.80" text-anchor="start" fill="#111" color="#111" font-weight="bold" >(c)</text>
</svg>
</body></html>
